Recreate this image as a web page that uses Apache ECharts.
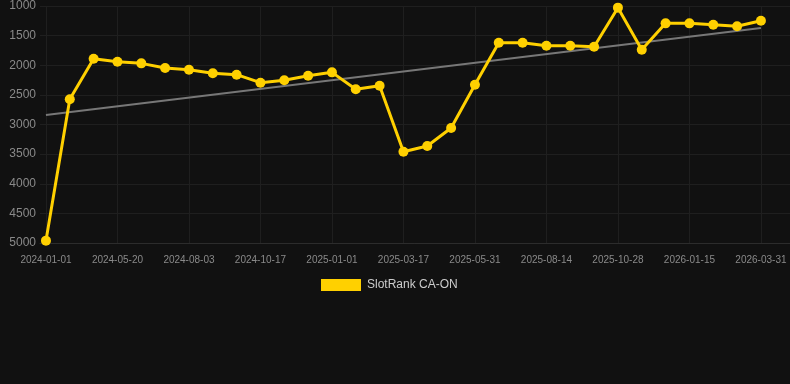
<!DOCTYPE html>
<html>
<head>
<meta charset="utf-8">
<script src="https://cdn.jsdelivr.net/npm/echarts@6/dist/echarts.min.js"></script>
<style>
html,body{margin:0;padding:0;background:#111111;}
#c{width:790px;height:384px;}
</style>
</head>
<body>
<div id="c"></div>
<script>
// Tick labels shown every 3rd point
var tickIndices = [0, 3, 6, 9, 12, 15, 18, 21, 24, 27, 30];
var tickLabels = ['2024-01-01','2024-05-20','2024-08-03','2024-10-17','2025-01-01','2025-03-17','2025-05-31','2025-08-14','2025-10-28','2026-01-15','2026-03-31'];
// Rank values (31 points)
var rankValues = [4960, 2575, 1889, 1940, 1968, 2046, 2075, 2136, 2159, 2294, 2254, 2176, 2120, 2406, 2345, 3459, 3363, 3059, 2328, 1619, 1619, 1670, 1670, 1687, 1028, 1737, 1293, 1293, 1315, 1343, 1248];
// Trend line end values
var trendValues = [2840, 1370];
var seriesName = 'SlotRank CA-ON';

var lineData = rankValues.map(function (v, i) { return [i, v]; });
var trendData = [[0, trendValues[0]], [rankValues.length - 1, trendValues[1]]];
var labelMap = {};
tickIndices.forEach(function (t, k) { labelMap[t] = tickLabels[k]; });

var chart = echarts.init(document.getElementById('c'), null, {renderer: 'canvas'});
chart.setOption({
  backgroundColor: '#111111',
  animation: false,
  grid: {left: 40, right: 0, top: 6, bottom: 141},
  legend: {
    top: 274,
    left: 316,
    itemWidth: 40,
    itemHeight: 12,
    itemGap: 10,
    icon: 'rect',
    textStyle: {color: '#cccccc', fontSize: 12, padding: [0, 0, 0, 1], fontFamily: 'Liberation Sans, Arial, sans-serif'},
    data: [seriesName]
  },
  xAxis: {
    type: 'value',
    min: -0.25,
    max: 31.22,
    axisLine: {show: true, lineStyle: {color: '#2c2c2c'}},
    axisTick: {show: false},
    splitLine: {show: false},
    axisLabel: {
      customValues: tickIndices,
      color: '#8a8a8a',
      fontSize: 10,
      margin: 12,
      fontFamily: 'Liberation Sans, Arial, sans-serif',
      formatter: function (v) { return labelMap[Math.round(v)] || ''; }
    }
  },
  yAxis: {
    type: 'value',
    inverse: true,
    min: 1000,
    max: 5000,
    interval: 500,
    axisLine: {show: false},
    axisTick: {show: false},
    splitLine: {lineStyle: {color: '#1f1f1f', width: 1}},
    axisLabel: {
      color: '#8a8a8a', fontSize: 12, margin: 4,
      fontFamily: 'Liberation Sans, Arial, sans-serif',
      formatter: function (v) { return String(v); }
    }
  },
  series: [
    {
      name: 'grid-v',
      type: 'line',
      data: [],
      silent: true,
      z: 0,
      markLine: {
        silent: true,
        symbol: 'none',
        animation: false,
        label: {show: false},
        lineStyle: {color: '#1f1f1f', width: 1, type: 'solid'},
        data: tickIndices.map(function (t) { return {xAxis: t}; })
      }
    },
    {
      name: 'trend',
      type: 'line',
      data: trendData,
      symbol: 'none',
      silent: true,
      lineStyle: {color: '#777777', width: 2},
      zlevel: 1,
      z: 1
    },
    {
      name: seriesName,
      type: 'line',
      data: lineData,
      symbol: 'circle',
      symbolSize: 10,
      itemStyle: {color: '#ffd000'},
      lineStyle: {color: '#ffd000', width: 3},
      zlevel: 1,
      z: 3
    }
  ]
});
</script>
</body>
</html>
